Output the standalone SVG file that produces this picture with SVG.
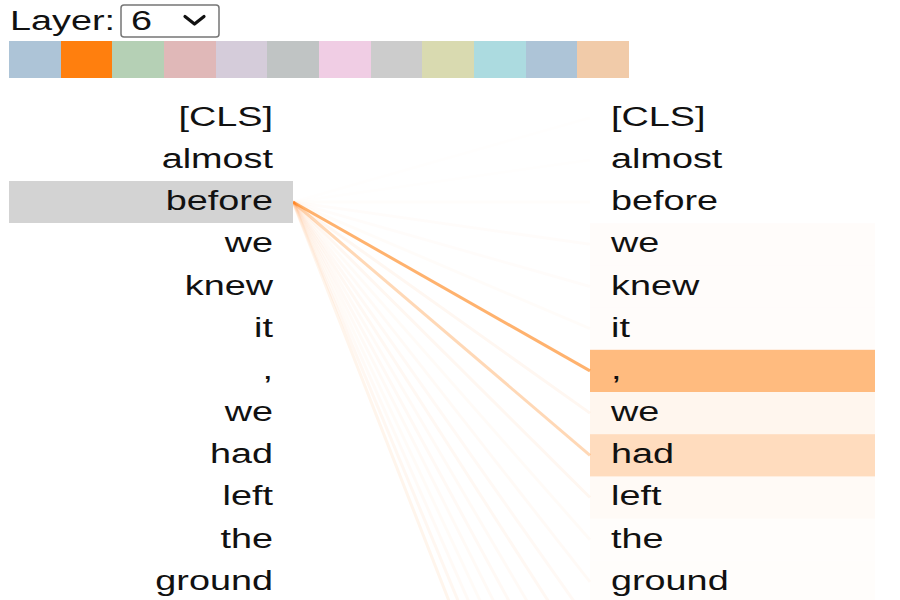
<svg xmlns="http://www.w3.org/2000/svg" width="900" height="600" viewBox="0 0 900 600">
<style>
text{font-family:"Liberation Sans",Arial,sans-serif;font-size:28px;fill:#111}
.l{text-anchor:end}
.att{stroke:#ff7f0e;stroke-width:3;fill:none}
.hr{fill:#ff7f0e}
</style>
<rect width="900" height="600" fill="#fff"/>
<g id="layer-select">
<rect x="121" y="5" width="98" height="32" rx="3" fill="#fff" stroke="#767676" stroke-width="1.5"/>
<g transform="scale(1.35 1)">
<text x="7.4" y="30">Layer:</text>
<text x="97" y="30">6</text>
</g>
<path d="M185 16.5 l9.5 7.5 l9.5 -7.5" fill="none" stroke="#111" stroke-width="3.2" stroke-linecap="round" stroke-linejoin="round"/>
</g>
<g id="head-colors">
<rect x="9" y="41" width="52" height="37" fill="#adc4d7"/>
<rect x="61" y="41" width="51" height="37" fill="#ff7f0e"/>
<rect x="112" y="41" width="52" height="37" fill="#b5d0b5"/>
<rect x="164" y="41" width="52" height="37" fill="#e0b8b8"/>
<rect x="216" y="41" width="51" height="37" fill="#d5ccda"/>
<rect x="267" y="41" width="52" height="37" fill="#c0c4c4"/>
<rect x="319" y="41" width="52" height="37" fill="#f0cde4"/>
<rect x="371" y="41" width="51" height="37" fill="#cccccc"/>
<rect x="422" y="41" width="52" height="37" fill="#d9dab0"/>
<rect x="474" y="41" width="52" height="37" fill="#acdbe0"/>
<rect x="526" y="41" width="51" height="37" fill="#adc4d7"/>
<rect x="577" y="41" width="52" height="37" fill="#f1cba9"/>
</g>
<g id="connectors">
<line class="att" x1="293" y1="202" x2="590" y2="117.7" stroke-opacity="0.008"/>
<line class="att" x1="293" y1="202" x2="590" y2="159.9" stroke-opacity="0.008"/>
<line class="att" x1="293" y1="202" x2="590" y2="202.1" stroke-opacity="0.015"/>
<line class="att" x1="293" y1="202" x2="590" y2="244.3" stroke-opacity="0.02"/>
<line class="att" x1="293" y1="202" x2="590" y2="286.5" stroke-opacity="0.02"/>
<line class="att" x1="293" y1="202" x2="590" y2="328.7" stroke-opacity="0.025"/>
<line class="att" x1="293" y1="202" x2="590" y2="370.9" stroke-opacity="0.6"/>
<line class="att" x1="293" y1="202" x2="590" y2="413.1" stroke-opacity="0.06"/>
<line class="att" x1="293" y1="202" x2="590" y2="455.3" stroke-opacity="0.3"/>
<line class="att" x1="293" y1="202" x2="590" y2="497.5" stroke-opacity="0.06"/>
<line class="att" x1="293" y1="202" x2="590" y2="539.7" stroke-opacity="0.03"/>
<line class="att" x1="293" y1="202" x2="590" y2="581.9" stroke-opacity="0.035"/>
<line class="att" x1="293" y1="202" x2="590" y2="624.1" stroke-opacity="0.045"/>
<line class="att" x1="293" y1="202" x2="590" y2="666.3" stroke-opacity="0.05"/>
<line class="att" x1="293" y1="202" x2="590" y2="708.5" stroke-opacity="0.035"/>
<line class="att" x1="293" y1="202" x2="590" y2="750.7" stroke-opacity="0.045"/>
<line class="att" x1="293" y1="202" x2="590" y2="792.9" stroke-opacity="0.035"/>
<line class="att" x1="293" y1="202" x2="590" y2="835.1" stroke-opacity="0.03"/>
<line class="att" x1="293" y1="202" x2="590" y2="877.3" stroke-opacity="0.035"/>
<line class="att" x1="293" y1="202" x2="590" y2="919.5" stroke-opacity="0.06"/>
<line class="att" x1="293" y1="202" x2="590" y2="961.7" stroke-opacity="0.08"/>
</g>
<g id="left-tokens">
<rect x="9" y="181" width="284" height="42" fill="#d3d3d3"/>
<g transform="scale(1.35 1)">
<text class="l" x="202.2" y="126">[CLS]</text>
<text class="l" x="202.2" y="168">almost</text>
<text class="l" x="202.2" y="210">before</text>
<text class="l" x="202.2" y="252">we</text>
<text class="l" x="202.2" y="295">knew</text>
<text class="l" x="202.2" y="337">it</text>
<text class="l" x="202.2" y="379">,</text>
<text class="l" x="202.2" y="421">we</text>
<text class="l" x="202.2" y="463">had</text>
<text class="l" x="202.2" y="505">left</text>
<text class="l" x="202.2" y="548">the</text>
<text class="l" x="202.2" y="590">ground</text>
</g>
</g>
<g id="right-tokens">
<rect class="hr" x="590" y="223.2" width="285" height="42.2" fill-opacity="0.02"/>
<rect class="hr" x="590" y="265.4" width="285" height="42.2" fill-opacity="0.02"/>
<rect class="hr" x="590" y="307.6" width="285" height="42.2" fill-opacity="0.02"/>
<rect class="hr" x="590" y="349.8" width="285" height="42.2" fill-opacity="0.53"/>
<rect class="hr" x="590" y="392" width="285" height="42.2" fill-opacity="0.07"/>
<rect class="hr" x="590" y="434.2" width="285" height="42.2" fill-opacity="0.27"/>
<rect class="hr" x="590" y="476.4" width="285" height="42.2" fill-opacity="0.04"/>
<rect class="hr" x="590" y="518.6" width="285" height="42.2" fill-opacity="0.015"/>
<rect class="hr" x="590" y="560.8" width="285" height="42.2" fill-opacity="0.015"/>
<g transform="scale(1.35 1)">
<text x="452.6" y="126">[CLS]</text>
<text x="452.6" y="168">almost</text>
<text x="452.6" y="210">before</text>
<text x="452.6" y="252">we</text>
<text x="452.6" y="295">knew</text>
<text x="452.6" y="337">it</text>
<text x="452.6" y="379">,</text>
<text x="452.6" y="421">we</text>
<text x="452.6" y="463">had</text>
<text x="452.6" y="505">left</text>
<text x="452.6" y="548">the</text>
<text x="452.6" y="590">ground</text>
</g>
</g>
</svg>
